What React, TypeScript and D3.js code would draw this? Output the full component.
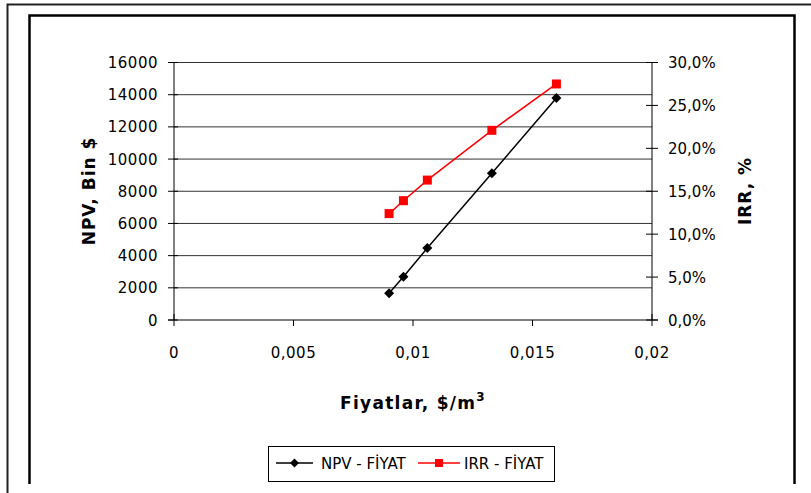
import React from "react";
import * as d3 from "d3";

// Prices ($/m3) with the matching NPV (thousand $) and IRR (%) values
const prices = [0.009, 0.0096, 0.0106, 0.0133, 0.016];
const npvValues = [1660, 2690, 4470, 9120, 13790];
const irrValues = [12.4, 13.9, 16.3, 22.1, 27.5];

const xTicks = [0, 0.005, 0.01, 0.015, 0.02];
const npvTicks = [0, 2000, 4000, 6000, 8000, 10000, 12000, 14000, 16000];
const irrTicks = [0, 5, 10, 15, 20, 25, 30];

const W = 811;
const H = 493;
const FONT = "'DejaVu Sans', Verdana, sans-serif";

const fmtX = (v: number) => (v === 0 ? "0" : String(v).replace(".", ","));
const fmtPct = (v: number) => v.toFixed(1).replace(".", ",") + "%";

export default function App() {
  const left = 174;
  const right = 652;
  const top = 62.5;
  const bottom = 320;

  const x = d3.scaleLinear().domain([0, 0.02]).range([left, right]);
  const yL = d3.scaleLinear().domain([0, 16000]).range([bottom, top]);
  const yR = d3.scaleLinear().domain([0, 30]).range([bottom, top]);

  const npvPts = prices.map((p, i) => [x(p), yL(npvValues[i])] as [number, number]);
  const irrPts = prices.map((p, i) => [x(p), yR(irrValues[i])] as [number, number]);
  const line = d3.line();

  const diamond = (cx: number, cy: number, r: number) =>
    `M${cx},${cy - r}L${cx + r},${cy}L${cx},${cy + r}L${cx - r},${cy}Z`;

  return (
    <svg
      width={W}
      height={H}
      style={{ position: "absolute", left: 0, top: 0, background: "#fff" }}
      fontFamily={FONT}
    >
      {/* outer frame */}
      <path d={`M7.5,${H}V4.5H${W}`} fill="none" stroke="#222" strokeWidth={2} />
      {/* chart frame */}
      <path d="M29.5,484V15.5H794.5V484" fill="none" stroke="#000" strokeWidth={2.5} />

      {/* horizontal gridlines */}
      {npvTicks.slice(1).map((t) => (
        <line key={t} x1={left} x2={right} y1={yL(t)} y2={yL(t)} stroke="#333" strokeWidth={1} />
      ))}

      {/* axes */}
      <line x1={left} x2={left} y1={top} y2={bottom} stroke="#000" />
      <line x1={right} x2={right} y1={top} y2={bottom} stroke="#000" />
      <line x1={left - 6} x2={right + 6} y1={bottom} y2={bottom} stroke="#000" />

      {/* left axis ticks and labels */}
      {npvTicks.map((t) => (
        <g key={t}>
          <line x1={left - 6} x2={left + 4} y1={yL(t)} y2={yL(t)} stroke="#000" />
          <text x={left - 16} y={yL(t) + 5.5} fontSize={15} textAnchor="end" letterSpacing={0.5} fill="#000">
            {t}
          </text>
        </g>
      ))}

      {/* right axis ticks and labels */}
      {irrTicks.map((t) => (
        <g key={t}>
          <line x1={right - 6} x2={right + 6} y1={yR(t)} y2={yR(t)} stroke="#000" />
          <text x={right + 16} y={yR(t) + 5.5} fontSize={15} textAnchor="start" fill="#000">
            {fmtPct(t)}
          </text>
        </g>
      ))}

      {/* x axis ticks and labels */}
      {xTicks.map((t) => (
        <g key={t}>
          <line x1={x(t)} x2={x(t)} y1={bottom - (t === 0 || t === 0.02 ? 6 : 0)} y2={bottom + 6} stroke="#000" />
          <text x={x(t)} y={358} fontSize={15} textAnchor="middle" letterSpacing={0.5} fill="#000">
            {fmtX(t)}
          </text>
        </g>
      ))}

      {/* axis titles */}
      <text
        transform={`translate(95,191) rotate(-90)`}
        fontSize={17}
        fontWeight="bold"
        textAnchor="middle"
        letterSpacing={1}
      >
        NPV, Bin $
      </text>
      <text
        transform={`translate(751,191) rotate(-90)`}
        fontSize={17}
        fontWeight="bold"
        textAnchor="middle"
        letterSpacing={1}
      >
        IRR, %
      </text>
      <text x={413} y={409} fontSize={17} fontWeight="bold" textAnchor="middle" letterSpacing={1.3}>
        Fiyatlar, $/m
        <tspan fontSize={12} dy={-8}>3</tspan>
      </text>

      {/* IRR series */}
      <path d={line(irrPts) ?? ""} fill="none" stroke="#ff0000" strokeWidth={1.5} />
      {irrPts.map(([px, py], i) => (
        <rect key={i} x={px - 4.5} y={py - 4.5} width={9} height={9} fill="#ff0000" />
      ))}

      {/* NPV series */}
      <path d={line(npvPts) ?? ""} fill="none" stroke="#000" strokeWidth={1.5} />
      {npvPts.map(([px, py], i) => (
        <path key={i} d={diamond(px, py, 5)} fill="#000" />
      ))}

      {/* legend */}
      <rect x={268.5} y={446.5} width={286} height={35} fill="#fff" stroke="#000" />
      <line x1={276} x2={313} y1={463} y2={463} stroke="#000" strokeWidth={1.5} />
      <path d={diamond(294.5, 463, 4.5)} fill="#000" />
      <text x={321} y={468.5} fontSize={15} fill="#000">
        NPV - FİYAT
      </text>
      <line x1={418} x2={460} y1={463} y2={463} stroke="#ff0000" strokeWidth={1.5} />
      <rect x={435} y={459} width={8} height={8} fill="#ff0000" />
      <text x={464} y={468.5} fontSize={15} fill="#000">
        IRR - FİYAT
      </text>
    </svg>
  );
}
